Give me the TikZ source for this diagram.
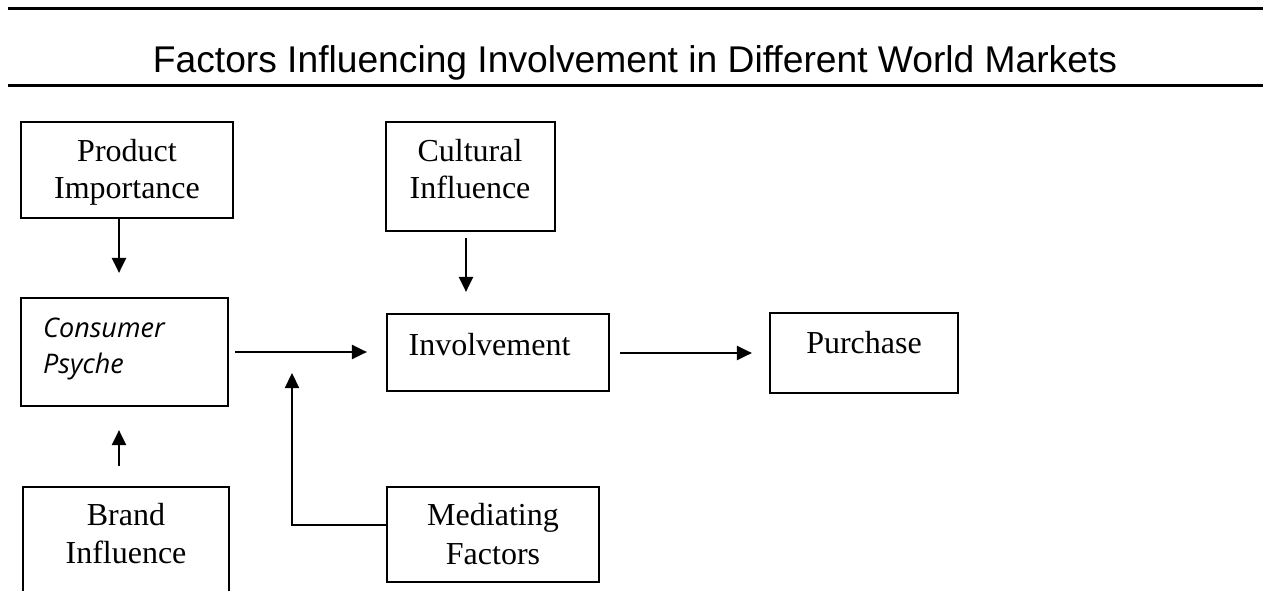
\documentclass[tikz,border=0pt]{standalone}
\usepackage{fontspec}
\setmainfont{Liberation Serif}
\newfontfamily\titlefont{Liberation Sans}
\newfontfamily\comicfont{Open Sans}
\usetikzlibrary{arrows.meta}
\tikzset{
  box/.style={draw, line width=2.2pt, inner sep=0pt},
  lbl/.style={font=\fontsize{32}{38}\selectfont, align=center, anchor=base, inner sep=0pt},
  arr/.style={line width=2.2pt, -{Triangle[length=15pt,width=14pt]}},
  rule/.style={line width=3pt},
}
\begin{document}
\begin{tikzpicture}[x=1pt,y=-1pt]
\clip (0,0) rectangle (1263,591);
\fill[white] (0,0) rectangle (1263,591);
% rules
\coordinate (rl1) at (8,9); \coordinate (rr1) at (1263,9);
\coordinate (rl2) at (8,86); \coordinate (rr2) at (1263,86);
\draw[rule] (rl1) -- (rr1);
\draw[rule] (rl2) -- (rr2);
% title
\node[font=\titlefont\fontsize{37.2}{44}\selectfont, anchor=base, inner sep=0pt] (title) at (635,73) {Factors Influencing Involvement in Different World Markets};
% boxes
\node[box, minimum width=212pt, minimum height=96pt] (prod) at (127,170) {};
\node[box, minimum width=169pt, minimum height=109pt] (cult) at (470.5,176.5) {};
\node[box, minimum width=207pt, minimum height=108pt] (cons) at (124.5,352) {};
\node[box, minimum width=222pt, minimum height=77pt] (inv) at (498,352.5) {};
\node[box, minimum width=188pt, minimum height=80pt] (pur) at (864,353) {};
\node[box, minimum width=206pt, minimum height=133pt] (brand) at (126,553.5) {};
\node[box, minimum width=212pt, minimum height=95pt] (med) at (493,534.5) {};
% texts (multi-line nodes: base anchor = last baseline)
\node[lbl, font=\fontsize{32}{37}\selectfont] (prodt) at (127,198) {Product\\Importance};
\node[lbl, font=\fontsize{32}{37}\selectfont] (cultt) at (470,198) {Cultural\\Influence};
\node[lbl] (invt) at (489.5,355) {Involvement};
\node[lbl] (purt) at (864,353) {Purchase};
\node[lbl] (brandt) at (126,563) {Brand\\Influence};
\node[lbl, font=\fontsize{32}{39}\selectfont] (medt) at (493,564) {Mediating\\Factors};
\node[font=\comicfont\itshape\fontsize{27}{36}\selectfont, align=left, anchor=base west, inner sep=0pt] (const) at (43,373) {Consumer\\Psyche};
% arrows
\draw[arr, shorten >=24pt] ([xshift=-8pt]prod.south) -- ([xshift=-8pt]prod.south |- cons.north);
\draw[arr, shorten <=6pt, shorten >=21pt] ([xshift=-4.5pt]cult.south) -- ([xshift=-4.5pt]cult.south |- inv.north);
\draw[arr, shorten <=6pt, shorten >=19pt] (cons.east) -- (cons.east -| inv.west);
\draw[arr, shorten <=10pt, shorten >=17pt] ([yshift=-0.5pt]inv.east) -- ([yshift=-0.5pt]inv.east -| pur.west);
\draw[arr, shorten <=20pt, shorten >=23pt] ([xshift=-7pt]brand.north) -- ([xshift=-7pt]brand.north |- cons.south);
\coordinate (jn) at (292,373);
\draw[arr] ([yshift=9.5pt]med.west) -| (jn);
\end{tikzpicture}
\end{document}
